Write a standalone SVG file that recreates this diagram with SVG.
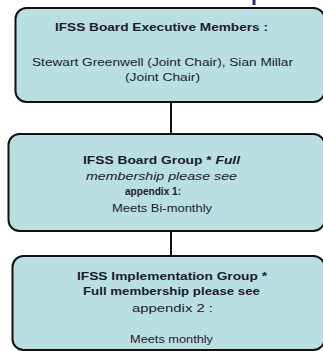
<svg xmlns="http://www.w3.org/2000/svg" width="323" height="351" viewBox="0 0 323 351">
<style>
.box{fill:#b9dfe3;stroke:#111;stroke-width:2}
.t{font-family:"Liberation Sans",Arial,sans-serif;font-size:11px;fill:#1c1c28;text-anchor:middle}
.b{font-weight:bold}
.i{font-style:italic}
.c{stroke:#111;stroke-width:2;fill:none}
</style>
<rect width="323" height="351" fill="#fff"/>
<g id="connectors">
<line class="c" x1="171" y1="102" x2="171" y2="134"/>
<line class="c" x1="171" y1="231" x2="171" y2="256"/>
<line x1="254" y1="0" x2="254" y2="5" stroke="#3a2a6a" stroke-width="3"/>
</g>
<g id="executive">
<rect class="box" x="15.5" y="8" width="309" height="94" rx="11"/>
<text class="t b" x="161.5" y="31" textLength="213" lengthAdjust="spacingAndGlyphs">IFSS Board Executive  Members :</text>
<text class="t" x="162.5" y="66" textLength="261" lengthAdjust="spacingAndGlyphs">Stewart Greenwell (Joint Chair), Sian Millar</text>
<text class="t" x="162.5" y="81" textLength="75" lengthAdjust="spacingAndGlyphs">(Joint Chair)</text>
</g>
<g id="board-group">
<rect class="box" x="8.5" y="134" width="316" height="97" rx="11"/>
<text class="t b" x="161.5" y="164" textLength="157" lengthAdjust="spacingAndGlyphs">IFSS Board Group * <tspan class="i">Full</tspan></text>
<text class="t i" x="161.5" y="180" textLength="151" lengthAdjust="spacingAndGlyphs">membership  please  see</text>
<text class="t b" x="153" y="195" textLength="56" lengthAdjust="spacingAndGlyphs">appendix 1:</text>
<text class="t" x="162" y="212" textLength="100" lengthAdjust="spacingAndGlyphs">Meets Bi-monthly</text>
</g>
<g id="implementation-group">
<rect class="box" x="12.5" y="256" width="312" height="94" rx="11"/>
<text class="t b" x="172" y="280" textLength="190" lengthAdjust="spacingAndGlyphs">IFSS Implementation  Group *</text>
<text class="t b" x="171.5" y="295" textLength="177" lengthAdjust="spacingAndGlyphs">Full membership please  see</text>
<text class="t" x="172.5" y="312" textLength="81" lengthAdjust="spacingAndGlyphs">appendix 2 :</text>
<text class="t" x="171.5" y="343" textLength="83" lengthAdjust="spacingAndGlyphs">Meets monthly</text>
</g>
</svg>
